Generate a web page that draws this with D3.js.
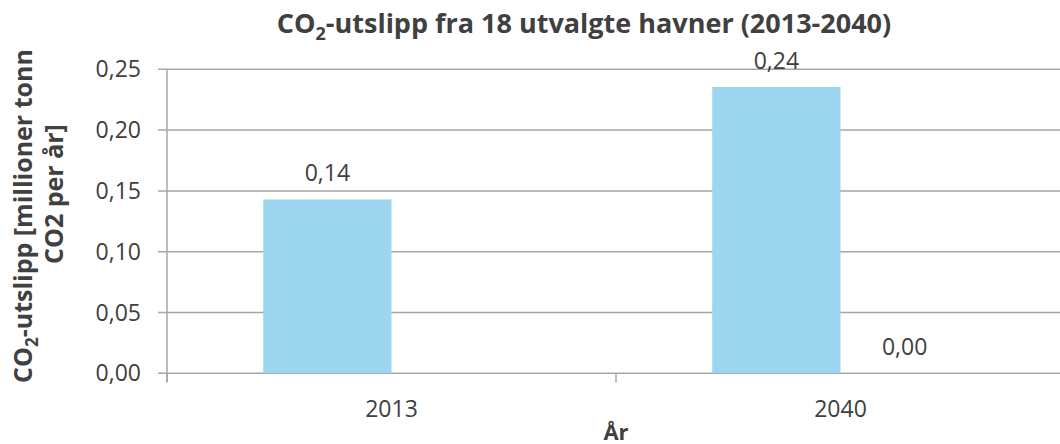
<!DOCTYPE html>
<html>
<head>
<meta charset="utf-8">
<script src="https://cdn.jsdelivr.net/npm/d3@7"></script>
<style>
  body { margin: 0; background: #fff; }
  text { font-family: "Open Sans", sans-serif; fill: #404040; }
</style>
</head>
<body>
<svg id="chart" width="1060" height="444"></svg>
<script>
var years = ["2013", "2040"];
var seriesA = [0.143, 0.2355];
var seriesB = [null, 0.0];
var yTicks = [0, 0.05, 0.10, 0.15, 0.20, 0.25];

var svg = d3.select("#chart");
var plotL = 167, plotR = 1065, plotT = 69.3, plotB = 373.3;

var x = d3.scaleBand().domain(years).range([plotL, plotR]).paddingInner(0).paddingOuter(0);
var inner = d3.scaleBand().domain(["a", "b"]).range([0, x.bandwidth()]).paddingInner(0).paddingOuter(0.75);
var y = d3.scaleLinear().domain([0, 0.25]).range([plotB, plotT]);
var fmt = function(v){ return d3.format(".2f")(v).replace(".", ","); };

// gridlines
svg.append("g").selectAll("line").data(yTicks).enter().append("line")
   .attr("x1", plotL - 9).attr("x2", 1060)
   .attr("y1", function(d){ return y(d); }).attr("y2", function(d){ return y(d); })
   .style("stroke", "#a6a6a6").style("stroke-width", 1.5);

// y axis line
svg.append("line").attr("x1", plotL).attr("x2", plotL).attr("y1", plotT).attr("y2", plotB + 9)
   .style("stroke", "#a6a6a6").style("stroke-width", 1.5);

// x ticks
svg.append("g").selectAll("line").data([plotL].concat(years.map(function(d){ return x(d) + x.bandwidth(); })))
   .enter().append("line")
   .attr("x1", function(d){ return d; }).attr("x2", function(d){ return d; })
   .attr("y1", plotB).attr("y2", plotB + 9)
   .style("stroke", "#a6a6a6").style("stroke-width", 1.5);

// y tick labels
svg.append("g").selectAll("text").data(yTicks).enter().append("text")
   .attr("x", 141).attr("y", function(d){ return y(d) + 8; })
   .attr("text-anchor", "end").style("font-size", "23px")
   .text(fmt);

// x labels
svg.append("g").selectAll("text").data(years).enter().append("text")
   .attr("x", function(d){ return x(d) + x.bandwidth() / 2; }).attr("y", 417)
   .attr("text-anchor", "middle").style("font-size", "23px")
   .text(function(d){ return d; });

// bars
var rows = [];
years.forEach(function(yr, i){
  rows.push({year: yr, s: "a", v: seriesA[i]});
  rows.push({year: yr, s: "b", v: seriesB[i]});
});
rows = rows.filter(function(r){ return r.v !== null; });

svg.append("g").selectAll("rect").data(rows).enter().append("rect")
   .attr("x", function(d){ return x(d.year) + inner(d.s); })
   .attr("y", function(d){ return y(d.v); })
   .attr("width", inner.bandwidth())
   .attr("height", function(d){ return plotB - y(d.v); })
   .style("fill", "#9cd7ef");

svg.append("g").selectAll("text").data(rows).enter().append("text")
   .attr("x", function(d){ return x(d.year) + inner(d.s) + inner.bandwidth() / 2; })
   .attr("y", function(d){ return y(d.v) - 18; })
   .attr("text-anchor", "middle").style("font-size", "23px")
   .text(function(d){ return fmt(d.v); });

// title
var title = svg.append("text").attr("x", 584).attr("y", 33).attr("text-anchor", "middle")
   .style("font-size", "27px").style("font-weight", "bold");
title.append("tspan").text("CO");
title.append("tspan").attr("dy", 7).style("font-size", "18px").text("2");
title.append("tspan").attr("dy", -7).text("-utslipp fra 18 utvalgte havner (2013-2040)");

// y axis title
var yt = svg.append("text").attr("transform", "translate(32,216) rotate(-90)")
   .attr("text-anchor", "middle").style("font-size", "25px").style("font-weight", "bold");
yt.append("tspan").text("CO");
yt.append("tspan").attr("dy", 6).style("font-size", "17px").text("2");
yt.append("tspan").attr("dy", -6).text("-utslipp [millioner tonn");
svg.append("text").attr("transform", "translate(63,194) rotate(-90)")
   .attr("text-anchor", "middle").style("font-size", "25px").style("font-weight", "bold")
   .text("CO2 per år]");

// x axis title
svg.append("text").attr("x", 616).attr("y", 440).attr("text-anchor", "middle")
   .style("font-size", "22px").style("font-weight", "bold").text("År");
</script>
</body>
</html>
